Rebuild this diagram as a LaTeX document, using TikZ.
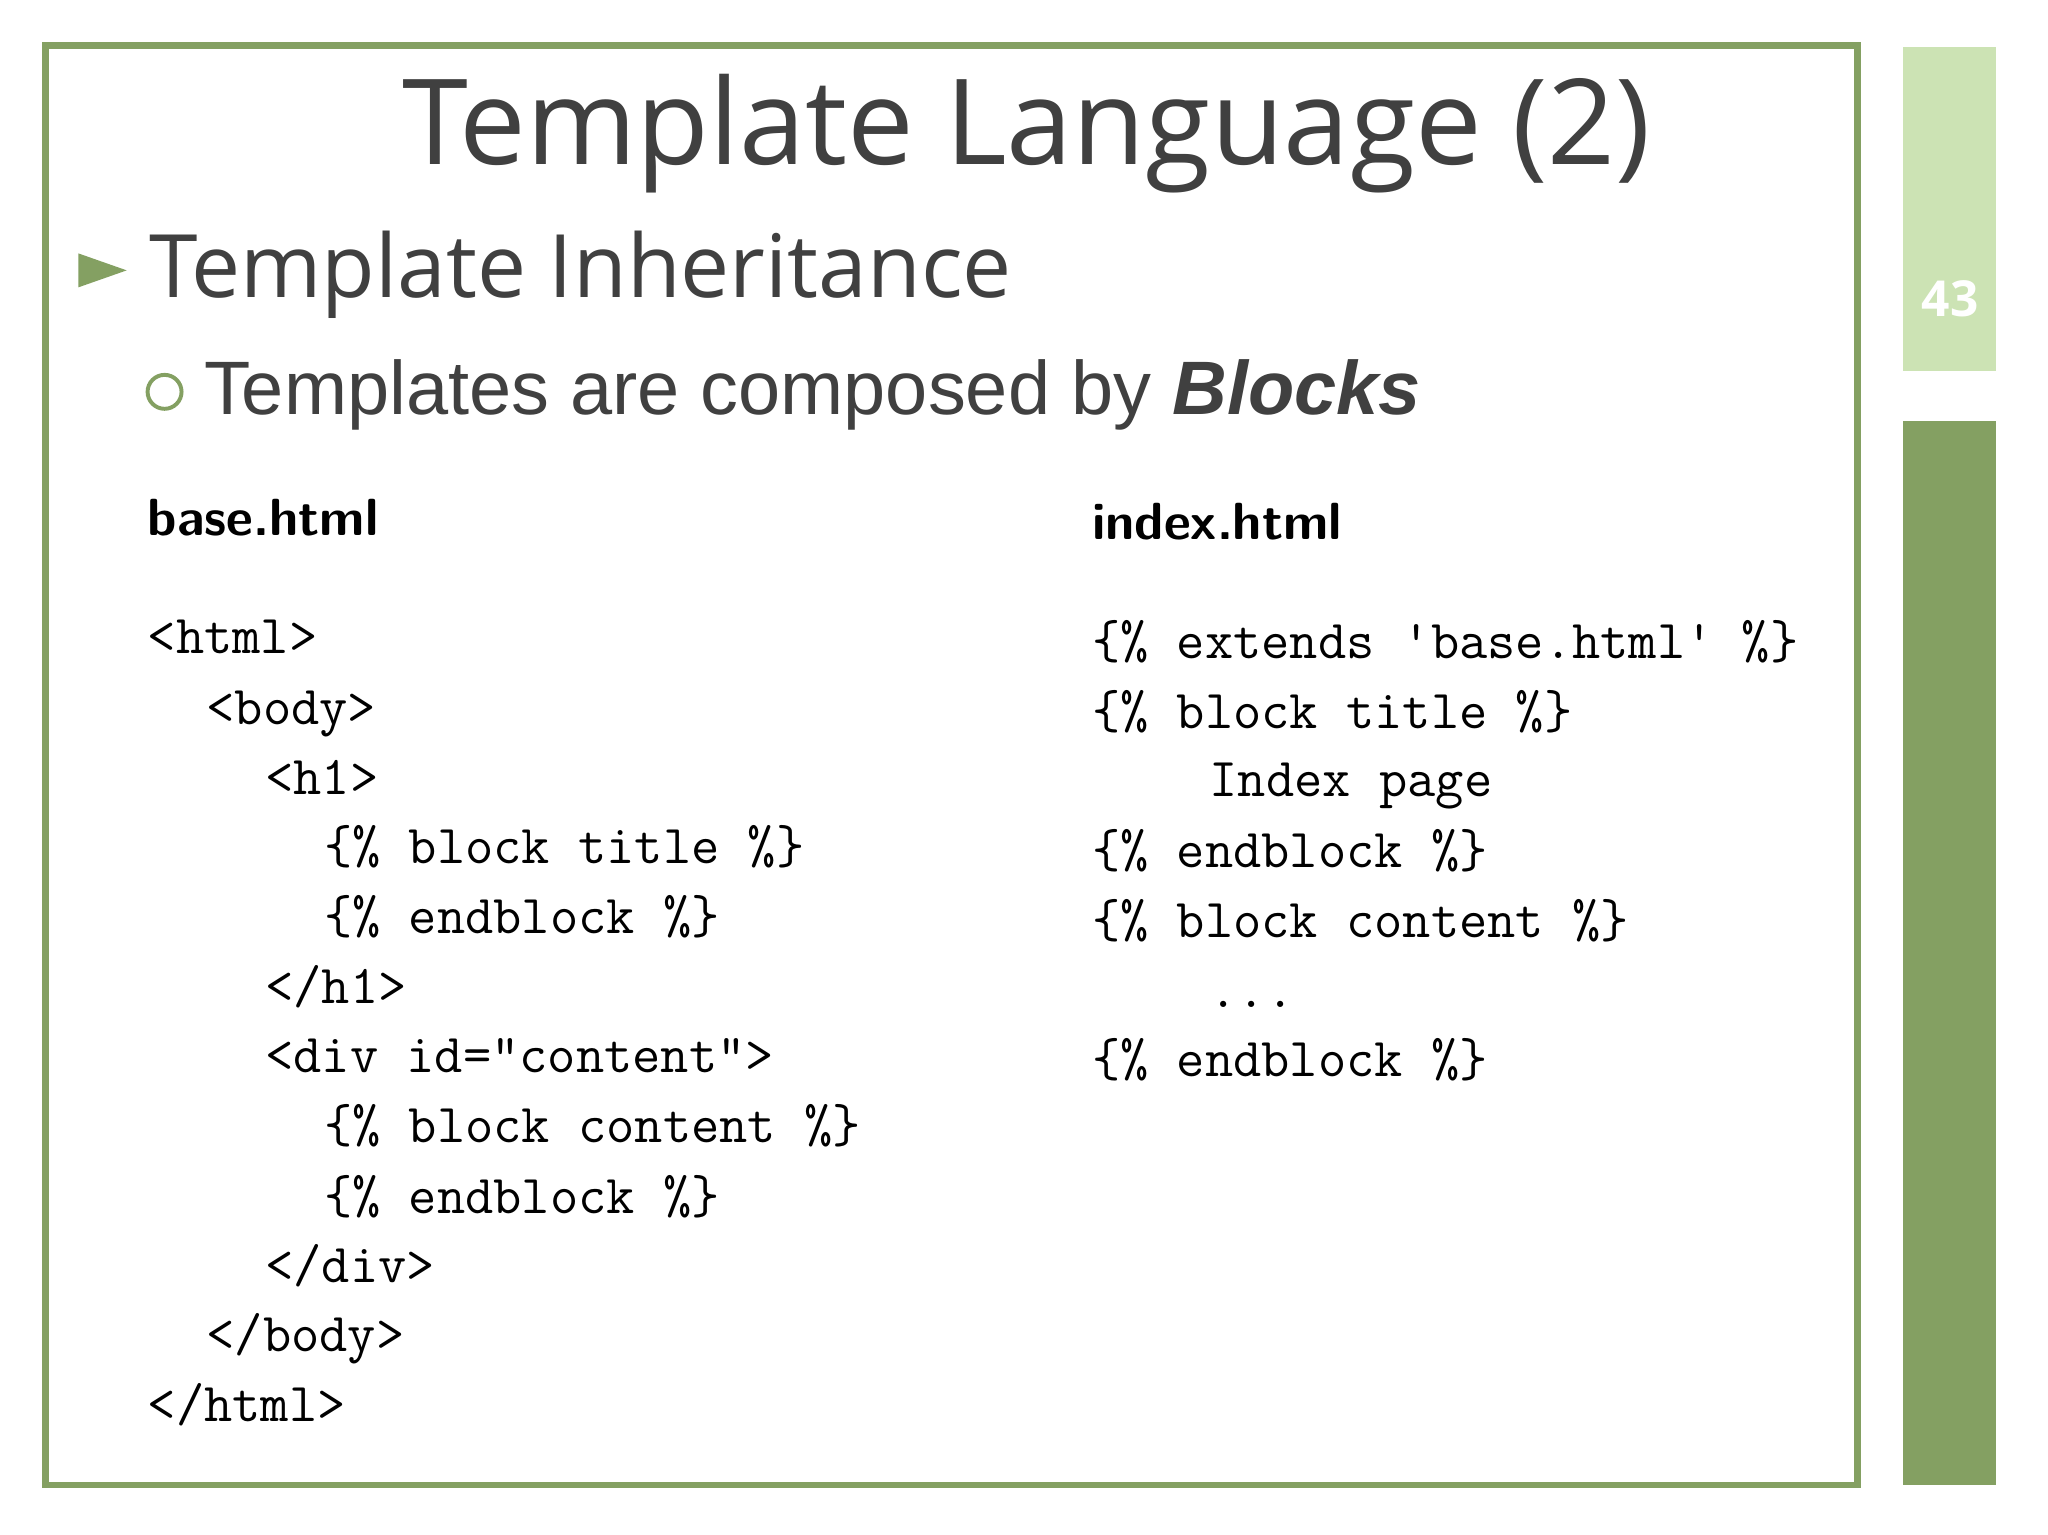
\documentclass[tikz,border=0pt]{standalone}
\usepackage{fontspec}
\newfontfamily\titlefont{Open Sans}
\newfontfamily\libsans{Liberation Sans}
\definecolor{fg}{HTML}{84A062}
\definecolor{lg}{HTML}{CCE3B4}
\definecolor{tx}{HTML}{404040}
\begin{document}
\begin{tikzpicture}[x=1pt,y=-1pt,
  code/.style={anchor=base west,inner sep=0pt,font=\fontsize{42}{42}\selectfont\ttfamily},
  head/.style={anchor=base west,inner sep=0pt,font=\fontsize{40}{40}\selectfont\sffamily\bfseries}]
\useasboundingbox[fill=white] (0,0) rectangle (1568,1175);
\draw[fg,line width=5] (35,35) rectangle (1422,1137);
\fill[lg] (1457,36) rectangle (1528,284);
\fill[fg] (1457,322) rectangle (1528,1137);
\node[white,font=\fontsize{38}{38}\selectfont\titlefont\bfseries] (pg) at (1493,229) {43};
\node[tx,font=\fontsize{91}{91}\selectfont\titlefont] (title) at (786,102) {Template Language (2)};
\fill[fg] (60,194) -- (97,207) -- (60,220) -- cycle;
\node[tx,anchor=base west,inner sep=0pt,font=\fontsize{67}{67}\selectfont\titlefont] (sub) at (114,228) {Template Inheritance};
\draw[fg,line width=3] (126,300) circle (13);
\node[tx,anchor=base west,inner sep=0pt,font=\fontsize{58}{58}\selectfont\libsans] (sub2) at (156,317) {Templates are composed by \textbf{\textit{Blocks}}};
\node[head] (h1) at (113,410) {base.html};
\node[head] (h2) at (836,413) {index.html};
\node[code] (l1) at (113,500) {<html>};
\node[code] (l2) at (158,555) {<body>};
\node[code] (l3) at (203,608) {<h1>};
\node[code] (l4) at (248,661) {\{\% block title \%\}};
\node[code] (l5) at (248,715) {\{\% endblock \%\}};
\node[code] (l6) at (203,768) {</h1>};
\node[code] (l7) at (203,821) {<div id="content">};
\node[code] (l8) at (248,875) {\{\% block content \%\}};
\node[code] (l9) at (248,929) {\{\% endblock \%\}};
\node[code] (l10) at (203,982) {</div>};
\node[code] (l11) at (158,1035) {</body>};
\node[code] (l12) at (113,1088) {</html>};
\node[code] (r1) at (836,504) {\{\% extends 'base.html' \%\}};
\node[code] (r2) at (836,558) {\{\% block title \%\}};
\node[code] (r3) at (926,610) {Index page};
\node[code] (r4) at (836,664) {\{\% endblock \%\}};
\node[code] (r5) at (836,718) {\{\% block content \%\}};
\node[code] (r6) at (926,771) {...};
\node[code] (r7) at (836,824) {\{\% endblock \%\}};
\end{tikzpicture}
\end{document}
